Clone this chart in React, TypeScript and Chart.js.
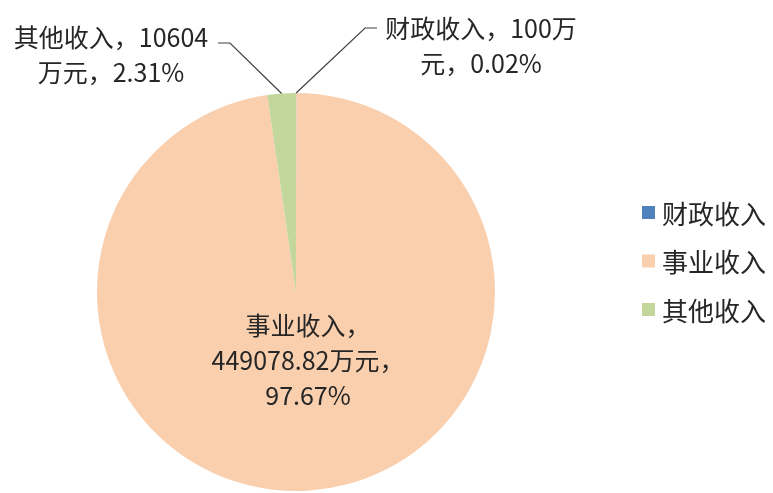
import React, { useEffect, useRef } from "react";
import { Chart, registerables } from "chart.js";

Chart.register(...registerables);

const categories = ["财政收入", "事业收入", "其他收入"];
const values = [100, 449078.82, 10604];
const colors = ["#4F81BD", "#F9CFAE", "#C3D69B"];
// where each data label wraps (character indices)
const labelBreaks = [[9], [5, 17], [10]];

const FONT = '"Noto Sans CJK SC", "Noto Sans", sans-serif';
const TEXT_COLOR = "#262626";

const total = values.reduce((a, b) => a + b, 0);
function labelText(i: number): string[] {
  const pct = ((values[i] / total) * 100).toFixed(2);
  const full = `${categories[i]}，${values[i]}万元，${pct}%`;
  const lines: string[] = [];
  let prev = 0;
  for (const b of labelBreaks[i]) {
    lines.push(full.slice(prev, b));
    prev = b;
  }
  lines.push(full.slice(prev));
  return lines;
}

// label placement relative to pie centre (annotation layout)
const labelLayout = [
  { leader: true, elbow: [69, -264], end: [81, -264], tx: 185, ty: -264 },
  { leader: false, elbow: [0, 0], end: [0, 0], tx: 12, ty: 33 },
  { leader: true, elbow: [-66, -249], end: [-78, -249], tx: -185, ty: -255 },
];

const labelPlugin = {
  id: "pieLabels",
  afterDraw(chart: any) {
    const ctx = chart.ctx as CanvasRenderingContext2D;
    const meta = chart.getDatasetMeta(0);
    ctx.save();
    ctx.font = `25px ${FONT}`;
    ctx.fillStyle = TEXT_COLOR;
    ctx.textAlign = "center";
    ctx.textBaseline = "middle";
    meta.data.forEach((arc: any, i: number) => {
      const p = arc.getProps(["x", "y", "startAngle", "endAngle", "outerRadius"], true);
      const cx = p.x;
      const cy = p.y;
      const L = labelLayout[i];
      if (L.leader) {
        const mid = (p.startAngle + p.endAngle) / 2;
        const sx = cx + Math.cos(mid) * p.outerRadius;
        const sy = cy + Math.sin(mid) * p.outerRadius;
        ctx.beginPath();
        ctx.strokeStyle = "#404040";
        ctx.lineWidth = 1.2;
        ctx.moveTo(sx, sy);
        ctx.lineTo(cx + L.elbow[0], cy + L.elbow[1]);
        ctx.lineTo(cx + L.end[0], cy + L.end[1]);
        ctx.stroke();
      }
      const lines = labelText(i);
      lines.forEach((ln, k) => {
        ctx.fillText(ln, cx + L.tx, cy + L.ty + k * 35);
      });
    });

    // legend
    const lx = 642;
    const ly0 = 213;
    const step = 48.5;
    ctx.font = `26px ${FONT}`;
    ctx.textAlign = "left";
    categories.forEach((c, i) => {
      const y = ly0 + i * step;
      ctx.fillStyle = colors[i];
      ctx.fillRect(lx, y - 7, 13, 13);
      ctx.fillStyle = TEXT_COLOR;
      ctx.fillText(c, lx + 20, y + 1);
    });
    ctx.restore();
  },
};

export default function App() {
  const ref = useRef<HTMLCanvasElement>(null);
  useEffect(() => {
    document.body.style.margin = "0";
    const chart = new Chart(ref.current!, {
      type: "pie",
      data: {
        labels: categories,
        datasets: [
          {
            data: values,
            backgroundColor: colors,
            borderWidth: 0,
            hoverBorderWidth: 0,
          },
        ],
      },
      options: {
        animation: false,
        responsive: false,
        events: [],
        layout: { padding: { left: 0, right: 181, top: 93, bottom: 2 } },
        plugins: {
          legend: { display: false },
          tooltip: { enabled: false },
        },
      },
      plugins: [labelPlugin],
    });
    return () => chart.destroy();
  }, []);
  return (
    <div style={{ width: 773, height: 493, background: "#fff" }}>
      <canvas ref={ref} width={773} height={493} style={{ display: "block" }} />
    </div>
  );
}
